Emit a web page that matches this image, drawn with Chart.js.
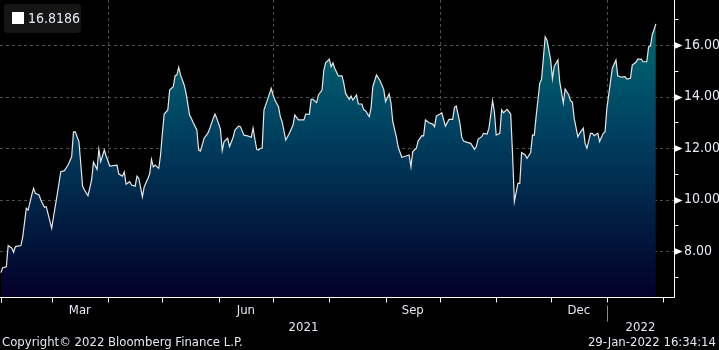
<!DOCTYPE html>
<html>
<head>
<meta charset="utf-8">
<script src="https://cdn.jsdelivr.net/npm/chart.js@4.4.1/dist/chart.umd.min.js"></script>
<style>
  html, body { margin:0; padding:0; background:#000; }
  #wrap { position:relative; width:719px; height:350px; background:#000; overflow:hidden; }
  canvas { position:absolute; left:0; top:0; }
  .txt { position:absolute; font-family:'Liberation Sans Narrow','DejaVu Sans Condensed',sans-serif; color:#e4e8f2; white-space:nowrap; }
  #legend { position:absolute; left:4px; top:4px; width:77px; height:29px; background:#151515; border-radius:4px; }
  #legend .sq { position:absolute; left:8px; top:8px; width:12px; height:12px; background:#fff; }
  #legend .lv { position:absolute; left:24px; top:6px; font-family:'DejaVu Sans Condensed','Liberation Sans',sans-serif; font-size:14px; color:#e4e8f2; }
</style>
</head>
<body>
<div id="wrap">
  <canvas id="c" width="719" height="350"></canvas>
  <div id="legend"><div class="sq"></div><div class="lv" id="lastVal"></div></div>
  <div class="txt" id="copy" style="left:2px; top:334px; font-size:13px;">Copyright© 2022 Bloomberg Finance L.P.</div>
  <div class="txt" id="stamp" style="right:3px; top:334px; font-size:13px;">29-Jan-2022 16:34:14</div>
</div>
<script>
// ---- data ----
const startDate = '2021-02-01';            // day 0
const dayIndex = [0,1,3,4,6,7,8,11,12,14,15,17,18,19,21,22,24,25,28,29,31,33,35,37,39,40,41,43,44,45,46,48,50,51,53,54,55,57,58,60,64,
  65,67,68,69,71,72,74,75,76,78,79,81,82,83,84,85,87,88,89,90,92,93,95,96,97,98,99,101,102,104,105,106,108,109,110,112,114,115,117,118,119,121,122,
  123,125,126,128,129,131,132,134,136,138,139,140,141,142,143,144,145,147,149,150,151,153,154,155,157,158,159,161,162,164,167,168,170,171,172,174,175,177,178,179,181,182,183,184,
  186,188,189,190,192,193,194,196,197,199,200,201,203,204,205,207,209,211,212,214,215,216,218,219,221,222,225,226,227,229,230,232,233,234,236,238,239,240,242,243,
  245,247,249,250,251,253,254,255,257,259,261,262,263,265,266,268,269,271,272,273,275,276,277,279,281,282,283,285,286,287,289,290,292,293,294,295,297,298,300,301,303,304,305,307,308,310,311,313,314,315,316,318,319,321,322,323,325,326,327,329,330,332,333,334,336,337,339,340,342,344,345,347,348,350,351,353,354,356,357,358,359,361];
const values = [7.16,7.35,7.39,8.21,8.11,7.95,8.17,8.21,8.53,9.66,9.59,10.18,10.44,10.24,10.18,9.98,9.70,9.72,8.88,9.33,10.18,11.08,11.12,11.34,11.66,12.63,12.63,12.25,11.41,10.52,10.37,10.15,10.76,11.45,11.17,11.95,11.47,11.92,11.69,11.30,11.33,
  10.99,10.91,11.07,10.59,10.69,10.56,10.52,10.91,10.82,10.11,10.50,10.82,10.99,11.56,11.27,11.34,11.21,11.73,12.57,13.32,13.48,14.25,14.38,14.80,14.84,15.13,14.84,14.45,14.15,13.28,13.15,12.98,12.70,11.92,11.88,12.38,12.57,12.73,13.15,13.32,13.15,12.73,11.90,
  12.25,12.38,12.05,12.42,12.70,12.85,12.83,12.50,12.47,12.42,12.77,12.34,11.95,11.92,11.99,11.99,13.48,13.89,14.32,14.06,13.86,13.60,13.22,13.02,12.31,12.44,12.57,12.89,13.28,13.09,13.09,13.32,13.31,13.89,13.89,13.76,14.06,14.25,15.03,15.31,15.45,15.16,15.31,15.10,
  14.80,14.80,14.51,14.12,13.89,14.02,13.86,14.06,13.71,13.71,13.48,13.45,13.22,13.54,14.38,14.84,14.61,14.28,13.80,14.10,13.74,13.02,12.42,12.03,11.64,11.66,11.73,11.27,11.86,11.99,12.28,12.48,12.47,13.09,12.98,12.93,12.83,13.24,13.32,13.37,
  12.85,13.11,13.11,13.58,13.63,12.96,12.42,12.27,12.22,12.18,11.95,12.05,12.34,12.44,12.57,12.54,12.77,13.83,13.41,12.50,12.57,13.48,13.37,13.50,13.32,11.79,9.92,10.63,10.63,11.82,11.73,11.60,11.82,12.50,12.50,13.22,14.51,14.67,16.32,16.19,15.43,14.69,15.18,15.42,14.58,13.74,14.29,14.06,13.83,13.78,13.15,12.44,12.57,12.77,12.18,11.99,12.57,12.57,12.48,12.57,12.25,12.57,12.63,13.54,14.58,15.10,15.42,14.80,14.75,14.77,14.68,14.71,15.22,15.33,15.45,15.45,15.35,15.35,15.93,15.96,16.39,16.8186];
const yTicks = [7,8,9,10,11,12,13,14,15,16,17];
const yLabelTicks = [8,10,12,14,16];
const monthLabels = ['Mar','Jun','Sep','Dec'];
const monthLabelMonths = ['2021-03','2021-06','2021-09','2021-12'];
const yearLabels = ['2021','2022'];
const lastValueText = '16.8186';

// ---- helpers ----
const DAY = 86400000;
const t0 = Date.parse(startDate + 'T00:00:00Z');
const dayOf = s => Math.round((Date.parse(s + 'T00:00:00Z') - t0) / DAY);
const monthStarts = [];
for (let m = 1; m <= 13; m++) {
  const d = new Date(Date.UTC(2021, m, 1));
  monthStarts.push((d.getTime() - t0) / DAY);
}
monthStarts.unshift(0);
const quarterStarts = ['2021-04-01','2021-07-01','2021-10-01','2022-01-01'].map(dayOf);
const yearStart2022 = dayOf('2022-01-01');
const X_MIN = -0.5, X_MAX = 371;

document.getElementById('lastVal').textContent = lastValueText;

const FONT = "'Liberation Sans Narrow','DejaVu Sans Condensed',sans-serif";

const bbgPlugin = {
  id: 'bbg',
  beforeDatasetsDraw(chart) {
    const {ctx, chartArea: a, scales: {x, y}} = chart;
    ctx.save();
    ctx.strokeStyle = '#505050';
    ctx.lineWidth = 1;
    ctx.setLineDash([3, 3]);
    yLabelTicks.forEach(v => {
      const py = Math.round(y.getPixelForValue(v)) + 0.5;
      ctx.beginPath(); ctx.moveTo(a.left, py); ctx.lineTo(a.right, py); ctx.stroke();
    });
    quarterStarts.forEach(d => {
      const px = Math.round(x.getPixelForValue(d)) + 0.5;
      ctx.beginPath(); ctx.moveTo(px, a.top); ctx.lineTo(px, a.bottom); ctx.stroke();
    });
    ctx.restore();
  },
  afterDraw(chart) {
    const {ctx, chartArea: a, scales: {x, y}} = chart;
    ctx.save();
    ctx.strokeStyle = '#ffffff';
    ctx.fillStyle = '#ffffff';
    ctx.lineWidth = 1;
    const rx = Math.round(a.right) + 0.5, by = Math.round(a.bottom) + 0.5;
    ctx.beginPath(); ctx.moveTo(rx, a.top); ctx.lineTo(rx, by); ctx.lineTo(a.left, by); ctx.stroke();
    yTicks.forEach(v => {
      const py = Math.round(y.getPixelForValue(v)) + 0.5;
      if (yLabelTicks.includes(v)) {
        ctx.beginPath();
        ctx.moveTo(rx, py - 3.5); ctx.lineTo(rx + 8, py); ctx.lineTo(rx, py + 3.5); ctx.closePath();
        ctx.fill();
      } else {
        ctx.beginPath(); ctx.moveTo(rx, py); ctx.lineTo(rx + 4, py); ctx.stroke();
      }
    });
    monthStarts.forEach(d => {
      if (d < X_MIN || d > X_MAX) return;
      const px = Math.round(x.getPixelForValue(d)) + 0.5;
      ctx.beginPath(); ctx.moveTo(px, by); ctx.lineTo(px, by + 5); ctx.stroke();
    });
    ctx.font = '13px ' + FONT;
    ctx.fillStyle = '#e4e8f2';
    ctx.textAlign = 'center';
    ctx.textBaseline = 'middle';
    monthLabelMonths.forEach((m, i) => {
      const s = dayOf(m + '-01');
      const [yy, mm] = m.split('-').map(Number);
      const e = (Date.UTC(yy, mm, 1) - t0) / DAY;
      ctx.fillText(monthLabels[i], x.getPixelForValue((s + e) / 2), by + 13);
    });
    ctx.fillText(yearLabels[0], x.getPixelForValue((X_MIN + yearStart2022) / 2), by + 30);
    ctx.fillText(yearLabels[1], x.getPixelForValue((yearStart2022 + X_MAX) / 2), by + 30);
    ctx.strokeStyle = '#8a8a8a';
    const sx = Math.round(x.getPixelForValue(yearStart2022)) + 0.5;
    ctx.beginPath(); ctx.moveTo(sx, by + 8); ctx.lineTo(sx, by + 24); ctx.stroke();
    ctx.restore();
  }
};

new Chart(document.getElementById('c'), {
  type: 'line',
  data: {
    datasets: [{
      data: dayIndex.map((d, i) => ({x: d, y: values[i]})),
      borderColor: '#e6e6e6',
      borderWidth: 1.2,
      pointRadius: 0,
      tension: 0,
      fill: 'start',
      backgroundColor: (c) => {
        const {chartArea, ctx} = c.chart;
        if (!chartArea) return 'rgba(0,80,100,1)';
        const g = ctx.createLinearGradient(0, chartArea.top, 0, chartArea.bottom);
        g.addColorStop(0, '#007080');
        g.addColorStop(0.15, '#00626f');
        g.addColorStop(0.45, '#004060');
        g.addColorStop(0.75, '#011c40');
        g.addColorStop(1, '#04002a');
        return g;
      }
    }]
  },
  options: {
    responsive: false,
    animation: false,
    devicePixelRatio: 1,
    layout: { padding: { left: 0, top: 0, right: 0, bottom: 53 } },
    plugins: { legend: { display: false }, tooltip: { enabled: false } },
    scales: {
      x: { type: 'linear', min: X_MIN, max: X_MAX, display: false },
      y: {
        position: 'right',
        min: 6.214, max: 17.748,
        afterFit: s => { s.width = 45; s.paddingTop = 0; s.paddingBottom = 0; },
        afterBuildTicks: s => { s.ticks = yTicks.map(v => ({value: v})); },
        grid: { display: false, drawTicks: false },
        border: { display: false },
        ticks: {
          padding: 10,
          color: '#e4e8f2',
          font: { family: FONT, size: 14 },
          callback: v => yLabelTicks.includes(v) ? v.toFixed(2) : ''
        }
      }
    }
  },
  plugins: [bbgPlugin]
});
</script>
</body>
</html>
